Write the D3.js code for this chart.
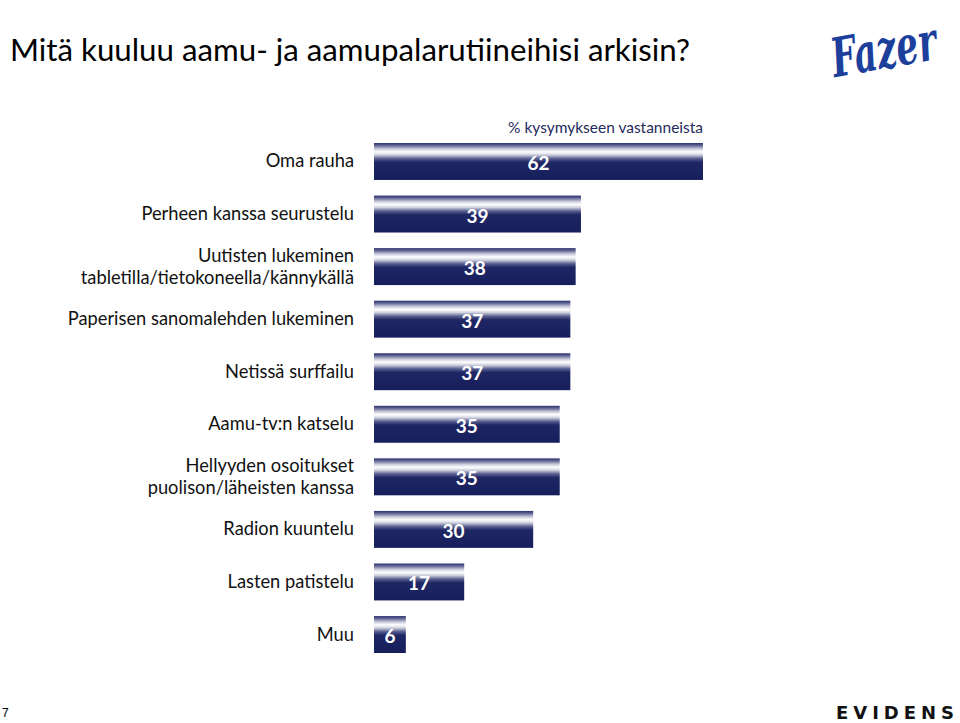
<!DOCTYPE html>
<html><head><meta charset="utf-8">
<script src="https://cdn.jsdelivr.net/npm/d3@7/dist/d3.min.js"></script>
<style>body{margin:0;background:#fff}svg{display:block}</style>
</head><body>
<svg id="c" width="960" height="723"></svg>
<script>
const categories = [
  ["Oma rauha"],
  ["Perheen kanssa seurustelu"],
  ["Uutisten lukeminen", "tabletilla/tietokoneella/kännykällä"],
  ["Paperisen sanomalehden lukeminen"],
  ["Netissä surffailu"],
  ["Aamu-tv:n katselu"],
  ["Hellyyden osoitukset", "puolison/läheisten kanssa"],
  ["Radion kuuntelu"],
  ["Lasten patistelu"],
  ["Muu"]
];
const values = [62, 39, 38, 37, 37, 35, 35, 30, 17, 6];
const titleText = "Mitä kuuluu aamu- ja aamupalarutiineihisi arkisin?";
const subtitleText = "% kysymykseen vastanneista";

const svg = d3.select("#c");
const FONT = "Lato, 'Open Sans', sans-serif";
const NAVY = "#161e5c";

function fitWidth(sel, size, target) {
  const w = sel.node().getComputedTextLength();
  sel.attr("font-size", size * target / w);
}

const defs = svg.append("defs");
const g = defs.append("linearGradient").attr("id","barGrad").attr("x1",0).attr("y1",0).attr("x2",0).attr("y2",1);
[[0,"#2c3370"],[0.06,"#5a5f8e"],[0.16,"#c9cadb"],[0.24,"#ffffff"],[0.32,"#d0d2e0"],[0.42,"#5a6090"],[0.52,"#1e2664"],[1,NAVY]]
  .forEach(([o,c]) => g.append("stop").attr("offset",o).attr("stop-color",c));

const x = d3.scaleLinear().domain([0, 62]).range([374, 703]);
const idx = d3.range(values.length);
const y = d3.scaleBand().domain(idx).range([143, 653]).paddingInner(0.297).paddingOuter(0);

// bars
svg.append("g").selectAll("rect").data(idx).join("rect")
  .attr("x", x(0)).attr("y", i => y(i))
  .attr("width", i => x(values[i]) - x(0))
  .attr("height", y.bandwidth())
  .attr("fill", "url(#barGrad)");

// value labels
svg.append("g").selectAll("text").data(idx).join("text")
  .attr("x", i => (x(0) + x(values[i])) / 2)
  .attr("y", i => y(i) + y.bandwidth() * 0.73)
  .attr("text-anchor", "middle")
  .attr("font-family", FONT).attr("font-weight", "bold").attr("font-size", 19)
  .attr("fill", "#fff")
  .text(i => values[i]);

// category labels
const cl = svg.append("g").selectAll("text").data(idx).join("text")
  .attr("text-anchor", "end")
  .attr("font-family", FONT).attr("font-size", 18.3).attr("fill", "#111");
cl.each(function(i){
  const lines = categories[i];
  const cy = y(i) + y.bandwidth()/2;
  const lh = 22;
  const t = d3.select(this);
  lines.forEach((ln, k) => {
    t.append("tspan").attr("x", 354)
      .attr("y", cy + (k - (lines.length-1)/2) * lh + 6)
      .text(ln);
  });
});

// title
const title = svg.append("text").attr("x", 10).attr("y", 61)
  .attr("font-family", FONT).attr("font-size", 30).attr("fill", "#000")
  .text(titleText);
fitWidth(title, 30, 680);

// subtitle
const sub = svg.append("text").attr("x", 703).attr("y", 133).attr("text-anchor","end")
  .attr("font-family", FONT).attr("font-size", 15).attr("fill", "#1f2a60")
  .text(subtitleText);
fitWidth(sub, 15, 195);

// Fazer logo (text)
svg.append("g").attr("transform", "translate(884,52) rotate(-10) scale(1,1.35)")
  .append("text").attr("x", 0).attr("y", 12).attr("text-anchor","middle")
  .attr("font-family", "'DejaVu Serif', serif").attr("font-style","italic").attr("font-weight","bold")
  .attr("font-size", 40).attr("fill", "#1d3f9c")
  .attr("textLength", 106).attr("lengthAdjust", "spacingAndGlyphs")
  .text("Fazer");

// EVIDENS
svg.append("text").attr("x", 836).attr("y", 719)
  .attr("font-family", "'DejaVu Sans', sans-serif").attr("font-weight","bold")
  .attr("font-size", 18).attr("fill", "#111")
  .attr("textLength", 118).attr("lengthAdjust", "spacing")
  .text("EVIDENS");

// page number
svg.append("text").attr("x", 2).attr("y", 717)
  .attr("font-family", "Arial, 'Liberation Sans', sans-serif").attr("font-size", 12).attr("fill", "#000")
  .text("7");
</script>
</body></html>
